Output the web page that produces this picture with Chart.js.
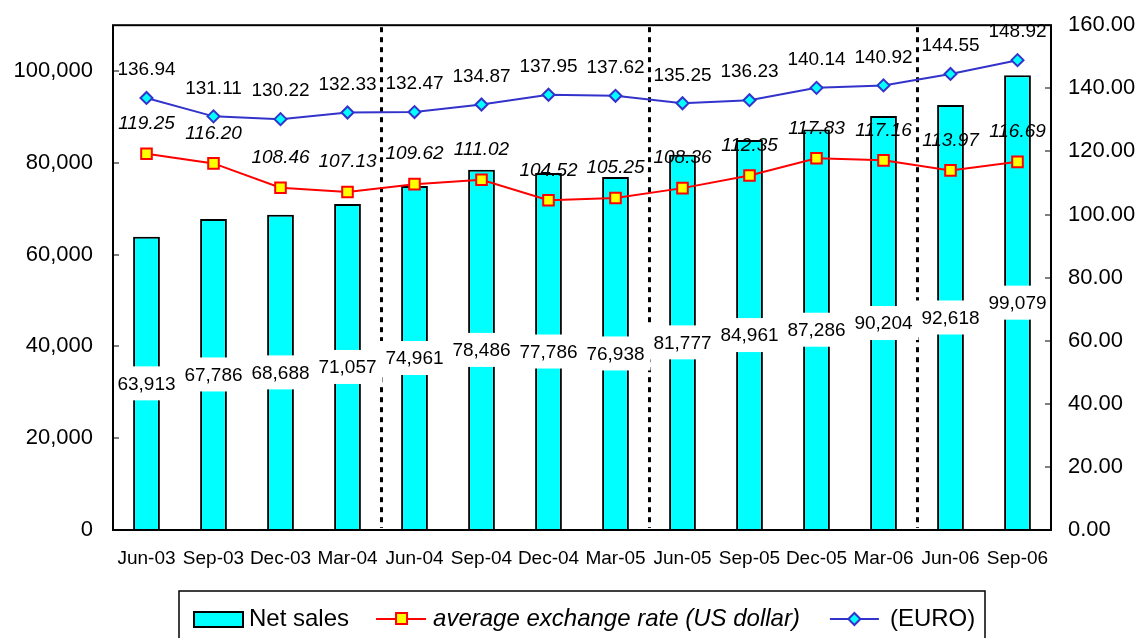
<!DOCTYPE html>
<html>
<head>
<meta charset="utf-8">
<script src="https://cdn.jsdelivr.net/npm/chart.js@4.4.1/dist/chart.umd.min.js"></script>
<style>
html, body { margin: 0; padding: 0; background: #fff; }
canvas { display: block; }
</style>
</head>
<body>
<canvas id="chart" width="1136" height="638"></canvas>
<script>
var categories = ['Jun-03', 'Sep-03', 'Dec-03', 'Mar-04', 'Jun-04', 'Sep-04', 'Dec-04',
                  'Mar-05', 'Jun-05', 'Sep-05', 'Dec-05', 'Mar-06', 'Jun-06', 'Sep-06'];
var netSales = [63913, 67786, 68688, 71057, 74961, 78486, 77786,
                76938, 81777, 84961, 87286, 90204, 92618, 99079];
var usdRate = [119.25, 116.20, 108.46, 107.13, 109.62, 111.02, 104.52,
               105.25, 108.36, 112.35, 117.83, 117.16, 113.97, 116.69];
var euroRate = [136.94, 131.11, 130.22, 132.33, 132.47, 134.87, 137.95,
                137.62, 135.25, 136.23, 140.14, 140.92, 144.55, 148.92];
var salesTicks = [0, 20000, 40000, 60000, 80000, 100000];
var rateTicks = [0, 20, 40, 60, 80, 100, 120, 140, 160];
// fiscal year breaks come after these quarters
var dividers = ['Mar-04', 'Mar-05', 'Mar-06'];

var FONT = "'Liberation Sans', Arial, sans-serif";

var extras = {
	id: 'extras',
	beforeDatasetsDraw: function(chart) {
		var ctx = chart.ctx;
		var area = chart.chartArea;
		var x = chart.scales.x;
		ctx.save();
		// dotted year separators
		ctx.strokeStyle = '#000';
		ctx.lineWidth = 3;
		ctx.setLineDash([5, 5]);
		dividers.forEach(function(lbl) {
			var i = categories.indexOf(lbl);
			var px = Math.round((x.getPixelForValue(i) + x.getPixelForValue(i + 1)) / 2) + 0.5;
			ctx.beginPath();
			ctx.moveTo(px, area.top + 2);
			ctx.lineTo(px, area.bottom - 2);
			ctx.stroke();
		});
		ctx.setLineDash([]);
		// inward tick marks
		ctx.strokeStyle = '#808080';
		ctx.lineWidth = 2;
		chart.scales.y.ticks.forEach(function(t) {
			var py = Math.round(chart.scales.y.getPixelForValue(t.value));
			ctx.beginPath();
			ctx.moveTo(area.left, py);
			ctx.lineTo(area.left + 6, py);
			ctx.stroke();
		});
		chart.scales.y1.ticks.forEach(function(t) {
			var py = Math.round(chart.scales.y1.getPixelForValue(t.value));
			ctx.beginPath();
			ctx.moveTo(area.right, py);
			ctx.lineTo(area.right - 6, py);
			ctx.stroke();
		});
		ctx.restore();
	},
	afterDatasetDraw: function(chart, args) {
		if (args.index !== 0) return;
		var ctx = chart.ctx;
		ctx.save();
		ctx.font = '19px ' + FONT;
		ctx.textAlign = 'center';
		ctx.textBaseline = 'middle';
		args.meta.data.forEach(function(bar, i) {
			var txt = netSales[i].toLocaleString('en-US');
			var mid = (bar.y + bar.base) / 2;
			var w = ctx.measureText(txt).width + 12;
			ctx.fillStyle = '#fff';
			ctx.fillRect(bar.x - w / 2, mid - 17, w, 34);
			ctx.fillStyle = '#000';
			ctx.fillText(txt, bar.x, mid + 1);
		});
		ctx.restore();
	},
	afterDatasetsDraw: function(chart) {
		var ctx = chart.ctx;
		ctx.save();
		ctx.textAlign = 'center';
		ctx.textBaseline = 'middle';
		ctx.fillStyle = '#000';
		// USD labels italic, EURO upright
		ctx.font = 'italic 19px ' + FONT;
		chart.getDatasetMeta(1).data.forEach(function(p, i) {
			ctx.fillText(usdRate[i].toFixed(2), p.x, p.y - 30);
		});
		ctx.font = '19px ' + FONT;
		chart.getDatasetMeta(2).data.forEach(function(p, i) {
			ctx.fillText(euroRate[i].toFixed(2), p.x, p.y - 28);
		});
		ctx.restore();
	},
	afterDraw: function(chart) {
		var ctx = chart.ctx;
		var area = chart.chartArea;
		var ds = chart.data.datasets;
		ctx.save();
		// plot frame
		ctx.strokeStyle = '#000';
		ctx.lineWidth = 2;
		ctx.strokeRect(area.left, area.top, area.right - area.left, area.bottom - area.top);

		// legend box
		ctx.lineWidth = 1.5;
		ctx.strokeRect(179, 591, 806, 60);
		var cy = 619;
		var x = 194;
		ctx.textBaseline = 'middle';
		ctx.textAlign = 'left';

		ctx.fillStyle = '#00FFFF';
		ctx.fillRect(x, cy - 7, 49, 15);
		ctx.strokeStyle = '#000';
		ctx.lineWidth = 2;
		ctx.strokeRect(x, cy - 7, 49, 15);
		x += 55;
		ctx.font = '24px ' + FONT;
		ctx.fillStyle = '#000';
		ctx.fillText(ds[0].label, x, cy);
		x += ctx.measureText(ds[0].label).width + 27;

		ctx.strokeStyle = '#FF0000';
		ctx.beginPath(); ctx.moveTo(x, cy); ctx.lineTo(x + 50, cy); ctx.stroke();
		ctx.fillStyle = '#FFFF00';
		ctx.fillRect(x + 20, cy - 6, 11, 11);
		ctx.strokeRect(x + 20, cy - 6, 11, 11);
		x += 57;
		ctx.font = 'italic 24px ' + FONT;
		ctx.fillStyle = '#000';
		ctx.fillText(ds[1].label, x, cy);
		x += ctx.measureText(ds[1].label).width + 30;

		ctx.strokeStyle = '#3333CC';
		ctx.beginPath(); ctx.moveTo(x, cy); ctx.lineTo(x + 49, cy); ctx.stroke();
		ctx.fillStyle = '#00FFFF';
		ctx.beginPath();
		ctx.moveTo(x + 24.5 - 6, cy); ctx.lineTo(x + 24.5, cy - 6);
		ctx.lineTo(x + 24.5 + 6, cy); ctx.lineTo(x + 24.5, cy + 6);
		ctx.closePath(); ctx.fill(); ctx.stroke();
		x += 60;
		ctx.font = '24px ' + FONT;
		ctx.fillStyle = '#000';
		ctx.fillText(ds[2].label, x, cy);
		ctx.restore();
	}
};

new Chart(document.getElementById('chart'), {
	type: 'bar',
	data: {
		labels: categories,
		datasets: [{
			type: 'bar',
			label: 'Net sales',
			data: netSales,
			yAxisID: 'y',
			backgroundColor: '#00FFFF',
			borderColor: '#000',
			borderWidth: 2,
			barPercentage: 0.4,
			categoryPercentage: 1,
			order: 3
		}, {
			type: 'line',
			label: 'average exchange rate (US dollar)',
			data: usdRate,
			yAxisID: 'y1',
			borderColor: '#FF0000',
			borderWidth: 2,
			pointStyle: 'rect',
			pointRadius: 7.5,
			pointBackgroundColor: '#FFFF00',
			pointBorderColor: '#FF0000',
			pointBorderWidth: 2,
			tension: 0,
			order: 2
		}, {
			type: 'line',
			label: '(EURO)',
			data: euroRate,
			yAxisID: 'y1',
			borderColor: '#3333CC',
			borderWidth: 2,
			pointStyle: 'rectRot',
			pointRadius: 6,
			pointBackgroundColor: '#00FFFF',
			pointBorderColor: '#3333CC',
			pointBorderWidth: 2,
			tension: 0,
			order: 1
		}]
	},
	options: {
		responsive: false,
		animation: false,
		events: [],
		layout: { padding: { top: 15, left: 0, right: 0, bottom: 0 } },
		plugins: {
			legend: { display: false },
			tooltip: { enabled: false }
		},
		scales: {
			x: {
				grid: { display: false },
				border: { display: false },
				ticks: {
					color: '#000',
					font: { family: FONT, size: 19 },
					padding: 9,
					maxRotation: 0,
					autoSkip: false
				},
				afterFit: function(s) { s.height = 108; }
			},
			y: {
				position: 'left',
				min: 0,
				max: 110000,
				grid: { display: false },
				border: { display: false },
				afterBuildTicks: function(s) {
					s.ticks = salesTicks.map(function(v) { return { value: v }; });
				},
				ticks: {
					color: '#000',
					font: { family: FONT, size: 22 },
					padding: 12,
					callback: function(v) { return v.toLocaleString('en-US'); }
				},
				afterFit: function(s) { s.width = 113; }
			},
			y1: {
				position: 'right',
				min: 0,
				max: 160,
				grid: { display: false },
				border: { display: false },
				afterBuildTicks: function(s) {
					s.ticks = rateTicks.map(function(v) { return { value: v }; });
				},
				ticks: {
					color: '#000',
					font: { family: FONT, size: 22 },
					padding: 9,
					callback: function(v) { return v.toFixed(2); }
				},
				afterFit: function(s) { s.width = 85; }
			}
		}
	},
	plugins: [extras]
});
</script>
</body>
</html>
